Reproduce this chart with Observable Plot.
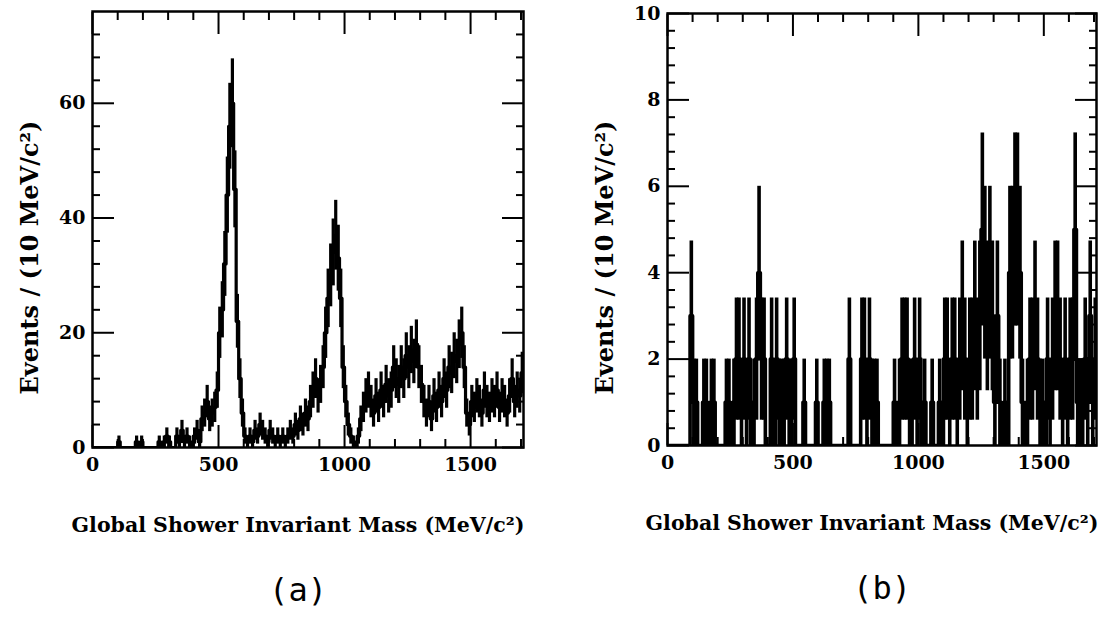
<!DOCTYPE html>
<html>
<head>
<meta charset="utf-8">
<script src="https://cdn.jsdelivr.net/npm/d3@7"></script>
<script src="https://cdn.jsdelivr.net/npm/@observablehq/plot@0.6"></script>
<style>
  html, body { margin: 0; padding: 0; background: #fff; }
  #wrap { position: relative; width: 1115px; height: 617px; overflow: hidden; background: #fff; }
  #pa, #pb { position: absolute; top: 0; }
  #pa { left: 0; }
  #pb { left: 557px; }
</style>
</head>
<body>
<div id="wrap"><div id="pa"></div><div id="pb"></div></div>
<script>
// ---- data: events per 10 MeV/c^2 bin, bins start at 0, 10, 20, ... 1700 MeV/c^2 ----
const binWidth = 10;
const xMax = 1710;

const countsA = [
  0,0,0,0,0,0,0,0,0,0,      // 0-90
  1,0,0,0,0,0,0,1,0,1,      // 100-190
  0,0,0,0,0,0,1,0,1,2,      // 200-290
  1,0,0,2,1,3,1,2,1,0,      // 300-390
  2,3,1,5,6,8,5,6,7,10,     // 400-490
  20,24,32,44,56,60,45,22,12,6, // 500-590
  2,1,2,1,3,2,4,3,2,1,      // 600-690
  3,2,1,2,1,2,1,2,3,2,      // 700-790
  4,3,5,4,6,5,8,10,12,9,    // 800-890
  11,14,20,26,30,34,37,33,26,14, // 900-990
  8,4,2,1,0,2,5,7,9,10,     // 1000-1090
  8,6,9,7,10,8,11,9,10,14,  // 1100-1190
  12,11,14,12,16,14,17,15,18,14, // 1200-1290
  11,8,6,8,5,9,7,10,8,12,   // 1300-1390
  10,14,13,16,15,18,20,14,6,4, // 1400-1490
  8,7,9,8,6,10,8,7,9,8,     // 1500-1590
  10,7,9,8,6,9,12,8,10,9,   // 1600-1690
  13                        // 1700
];

const countsB = [
  0,0,0,0,0,0,0,0,0,3,      // 0-90
  1,1,0,0,1,1,0,1,1,0,      // 100-190
  0,0,0,1,1,0,1,2,2,1,      // 200-290
  2,1,2,0,1,2,4,2,2,0,      // 300-390
  0,2,0,2,1,1,1,2,1,1,      // 400-490
  2,0,0,0,1,0,0,0,0,1,      // 500-590
  0,0,1,1,1,0,0,0,0,0,      // 600-690
  0,0,2,0,0,0,0,2,2,1,      // 700-790
  2,1,1,1,0,0,0,0,0,0,      // 800-890
  1,0,1,2,2,2,1,1,2,1,      // 900-990
  2,0,1,0,0,1,0,0,1,0,      // 1000-1090
  2,2,1,2,2,1,2,3,2,1,      // 1100-1190
  2,2,3,2,3,5,4,3,4,3,      // 1200-1290
  1,3,1,0,1,0,4,4,5,5,      // 1300-1390
  4,1,0,1,2,2,3,2,1,1,      // 1400-1490
  0,2,1,2,3,3,2,1,2,1,      // 1500-1590
  2,2,5,1,1,1,2,1,3,1,      // 1600-1690
  2                         // 1700
];

// ---- axis ticks ----
const xMajor = [0, 500, 1000, 1500];
const xMinor = [100,200,300,400,600,700,800,900,1100,1200,1300,1400,1600,1700];
const yMajorA = [0, 20, 40, 60];
const yMinorA = [4,8,12,16,24,28,32,36,44,48,52,56,64,68,72];
const yMajorB = [0, 2, 4, 6, 8, 10];
const yMinorB = [0.4,0.8,1.2,1.6,2.4,2.8,3.2,3.6,4.4,4.8,5.2,5.6,6.4,6.8,7.2,7.6,8.4,8.8,9.2,9.6];

const xTitle = "Global Shower Invariant Mass (MeV/c²)";
const yTitle = "Events / (10 MeV/c²)";

function buildBins(counts) {
  return counts.map((n, i) => ({x0: i * binWidth, x1: (i + 1) * binWidth, n}));
}

function inwardAxes(xMaj, xMin, yMaj, yMin) {
  const big = 22, small = 8, sw = 2;
  const blank = () => "";
  const fmt = d => String(d);
  return [
    Plot.axisX(xMaj, {anchor: "bottom", tickSize: big, dy: -big, tickFormat: blank, strokeWidth: sw, label: null}),
    Plot.axisX(xMin, {anchor: "bottom", tickSize: small, dy: -small, tickFormat: blank, strokeWidth: sw, label: null}),
    Plot.axisX(xMaj, {anchor: "top", tickSize: big, dy: big, tickFormat: blank, strokeWidth: sw, label: null}),
    Plot.axisX(xMin, {anchor: "top", tickSize: small, dy: small, tickFormat: blank, strokeWidth: sw, label: null}),
    Plot.axisY(yMaj, {anchor: "left", tickSize: big, dx: big, tickFormat: blank, strokeWidth: sw, label: null}),
    Plot.axisY(yMin, {anchor: "left", tickSize: small, dx: small, tickFormat: blank, strokeWidth: sw, label: null}),
    Plot.axisY(yMaj, {anchor: "right", tickSize: big, dx: -big, tickFormat: blank, strokeWidth: sw, label: null}),
    Plot.axisY(yMin, {anchor: "right", tickSize: small, dx: -small, tickFormat: blank, strokeWidth: sw, label: null}),
    // tick labels
    Plot.axisX(xMaj, {anchor: "bottom", tickSize: 0, tickPadding: 10, label: null, tickFormat: fmt,
      fontFamily: "DejaVu Serif", fontWeight: "bold", fontSize: 19}),
    Plot.axisY(yMaj, {anchor: "left", tickSize: 0, tickPadding: 7, label: null, tickFormat: fmt,
      fontFamily: "DejaVu Serif", fontWeight: "bold", fontSize: 19})
  ];
}

function histPlot(counts, cfg) {
  const bins = buildBins(counts);
  const step = bins.map(b => ({x: b.x0, y: b.n}));
  step.push({x: xMax, y: counts[counts.length - 1]});
  const errs = bins.filter(b => b.n > 0);
  return Plot.plot({
    width: cfg.width,
    height: 617,
    marginLeft: cfg.ml,
    marginRight: cfg.mr,
    marginTop: cfg.mt,
    marginBottom: cfg.mb,
    style: {background: "#fff", color: "#000", fontFamily: "DejaVu Serif", overflow: "visible"},
    x: {domain: [0, xMax]},
    y: {domain: cfg.yDomain},
    marks: [
      Plot.line(step, {x: "x", y: "y", curve: "step-after", stroke: "#000", strokeWidth: cfg.sw, clip: true}),
      Plot.ruleX(errs, {x: d => (d.x0 + d.x1) / 2, y1: d => d.n - Math.sqrt(d.n), y2: d => d.n + Math.sqrt(d.n),
        stroke: "#000", strokeWidth: cfg.sw, clip: true}),
      ...inwardAxes(xMajor, xMinor, cfg.yMaj, cfg.yMin),
      Plot.frame({stroke: "#000", strokeWidth: 2.5}),
      Plot.text([yTitle], {text: d => d, frameAnchor: "left", textAnchor: "middle", dx: -62, dy: 28, rotate: -90,
        fontFamily: "DejaVu Serif", fontWeight: "bold", fontSize: 24, fill: "#000"}),
      Plot.text([xTitle], {text: d => d, frameAnchor: "bottom", lineAnchor: "bottom", dx: -10, dy: 84,
        fontFamily: "DejaVu Serif", fontWeight: "bold", fontSize: 20.5, fill: "#000"}),
      Plot.text([cfg.tag], {text: d => d, frameAnchor: "bottom", lineAnchor: "bottom", dx: cfg.tagDx, dy: 153,
        fontFamily: "DejaVu Sans Mono", fontSize: 32, fill: "#000"})
    ]
  });
}

document.getElementById("pa").appendChild(histPlot(countsA, {
  width: 557, ml: 92, mr: 34, mt: 11, mb: 170, yDomain: [0, 76], sw: 3.2,
  yMaj: yMajorA, yMin: yMinorA, tag: "(a)", tagDx: -10
}));
document.getElementById("pb").appendChild(histPlot(countsB, {
  width: 558, ml: 110, mr: 19, mt: 13, mb: 172, yDomain: [0, 10], sw: 3.6,
  yMaj: yMajorB, yMin: yMinorB, tag: "(b)", tagDx: 0
}));
</script>
</body>
</html>
